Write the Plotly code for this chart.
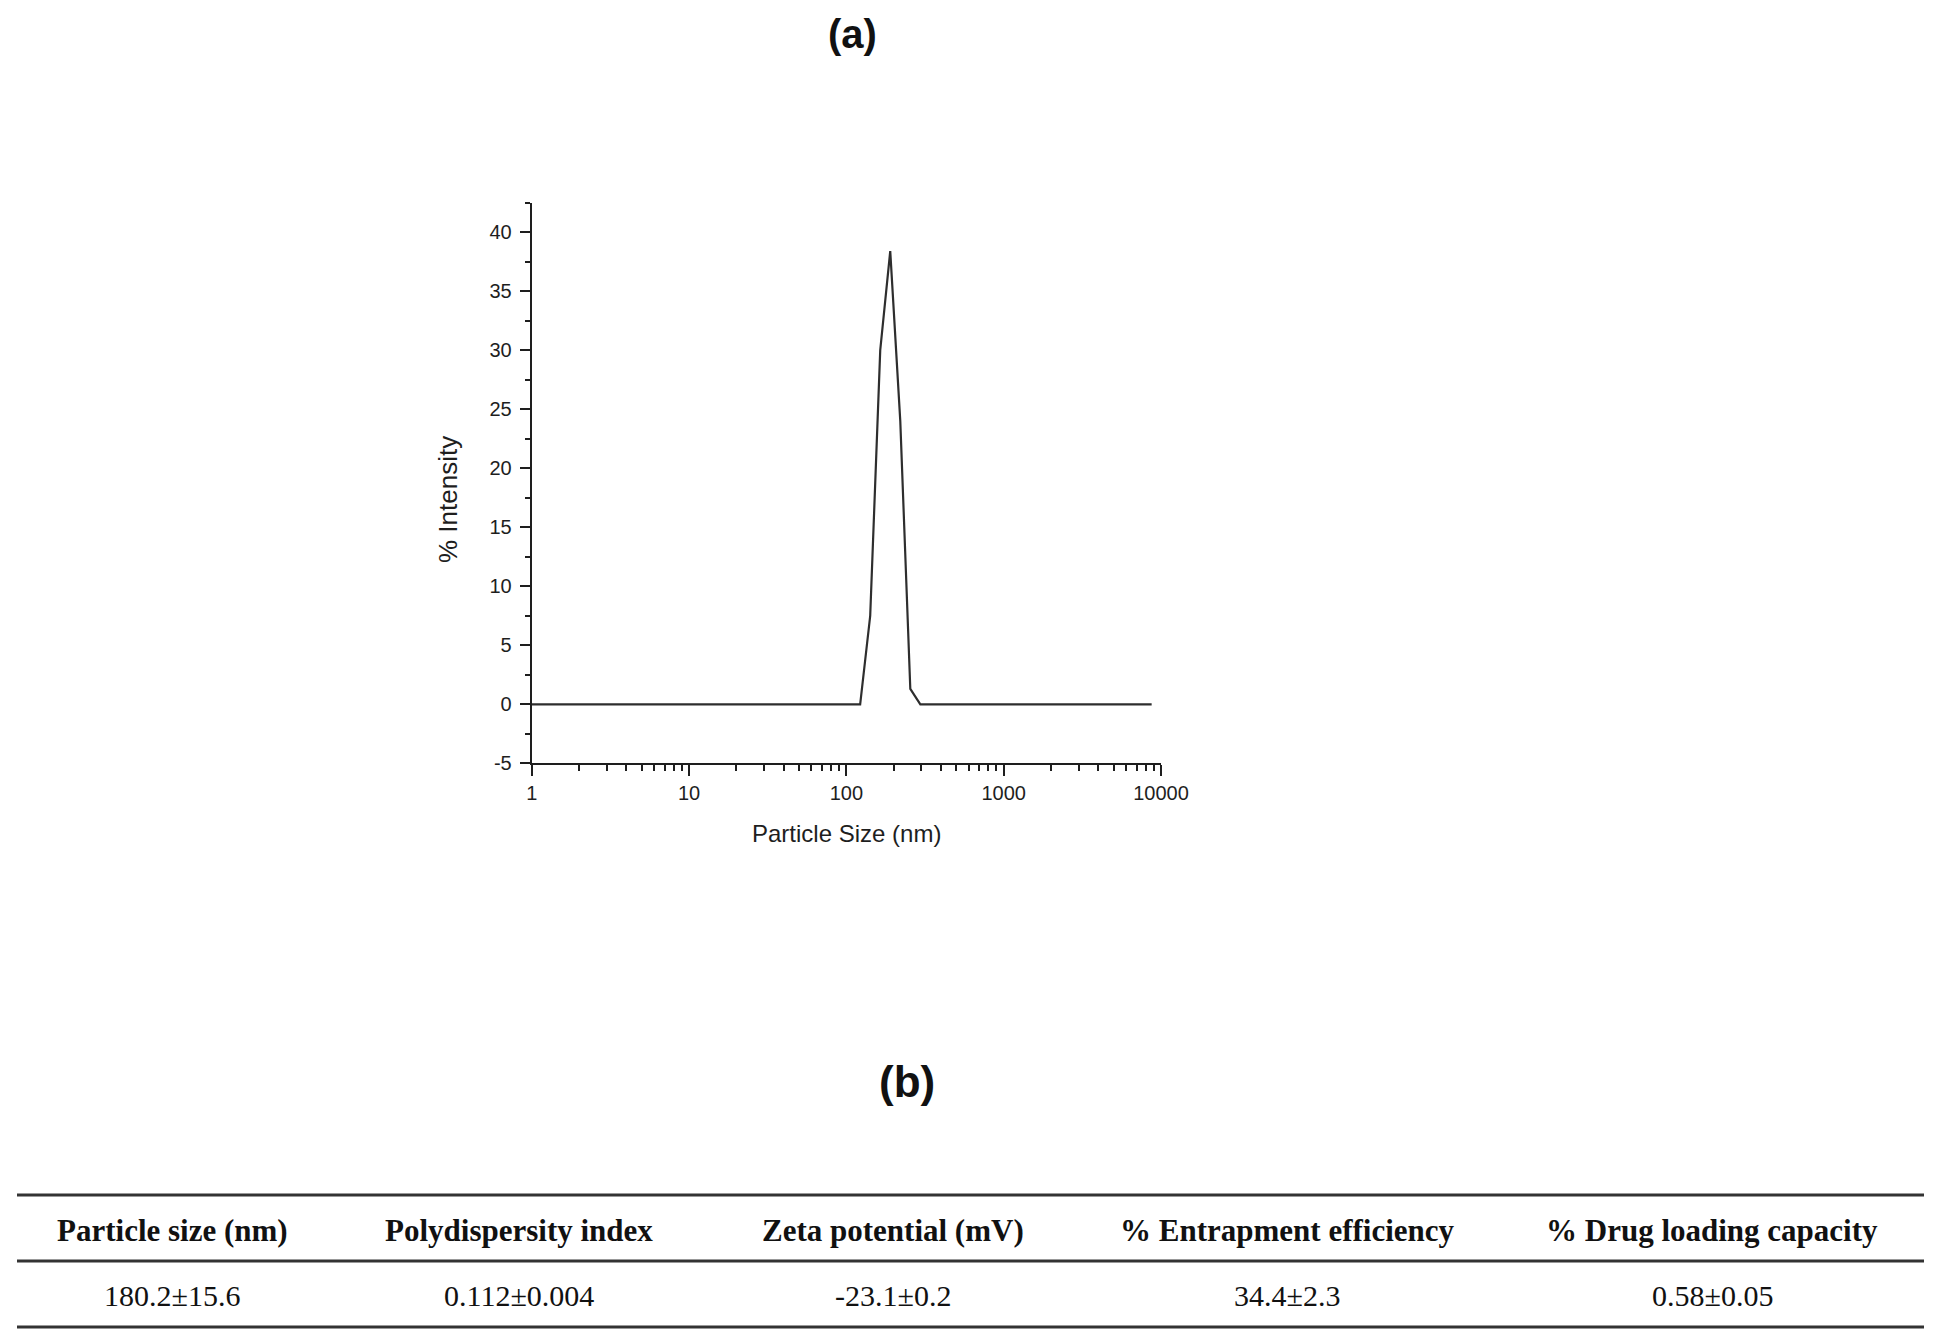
import plotly.graph_objects as go

# ---------------- data ----------------
particle_size_nm = [1, 122.4, 141.8, 164.2, 190.1, 220.2, 255.0, 295.3, 8721]
intensity_pct = [0, 0, 7.5, 30.0, 38.4, 24.0, 1.3, 0, 0]

x_tick_vals = [1, 10, 100, 1000, 10000]
x_tick_text = ["1", "10", "100", "1000", "10000"]
y_tick_vals = [-5, 0, 5, 10, 15, 20, 25, 30, 35, 40]
y_tick_text = ["-5", "0", "5", "10", "15", "20", "25", "30", "35", "40"]

table_headers = ["Particle size (nm)", "Polydispersity index", "Zeta potential (mV)",
                 "% Entrapment efficiency", "% Drug loading capacity"]
table_values = ["180.2±15.6", "0.112±0.004", "-23.1±0.2", "34.4±2.3", "0.58±0.05"]

panel_a_label = "(a)"
panel_b_label = "(b)"
x_title = "Particle Size (nm)"
y_title = "% Intensity"

# ---------------- layout helpers ----------------
W, H = 1942, 1343


def px(x):
    return x / W


def py(y):
    return 1 - y / H


AX = "#1e1e1e"
SANS = "Liberation Sans, Arial, sans-serif"
SERIF = "Liberation Serif, Times New Roman, serif"

fig = go.Figure()
fig.add_trace(go.Scatter(x=particle_size_nm, y=intensity_pct, mode="lines",
                         line=dict(color="#2e2e2e", width=2.2), hoverinfo="skip"))

minor_x = [d * m for d in [1, 10, 100, 1000] for m in range(2, 10)]

fig.update_layout(
    template="none",
    width=W, height=H, autosize=False,
    margin=dict(l=0, r=0, t=0, b=0, pad=0, autoexpand=False),
    plot_bgcolor="white", paper_bgcolor="white",
    showlegend=False,
    xaxis=dict(
        domain=[px(531.7), px(1161)], type="log", range=[0, 4],
        automargin=False,
        showline=True, linecolor=AX, linewidth=2, mirror=False,
        ticks="outside", ticklen=11, tickwidth=2, tickcolor=AX,
        tickmode="array", tickvals=x_tick_vals, ticktext=x_tick_text,
        tickfont=dict(family=SANS, size=20, color=AX),
        showgrid=False, zeroline=False,
        minor=dict(ticks="outside", ticklen=6, tickwidth=1.5, tickcolor=AX,
                   tickmode="array", tickvals=minor_x, showgrid=False),
    ),
    yaxis=dict(
        domain=[py(763.3), py(202.7)], range=[-5, 42.5],
        automargin=False,
        showline=True, linecolor=AX, linewidth=2, mirror=False,
        ticks="outside", ticklen=10, tickwidth=2, tickcolor=AX,
        tickmode="array", tickvals=y_tick_vals, ticktext=y_tick_text,
        tickfont=dict(family=SANS, size=20, color=AX),
        ticklabelstandoff=4,
        showgrid=False, zeroline=False,
        minor=dict(ticks="outside", ticklen=5, tickwidth=1.5, tickcolor=AX,
                   dtick=2.5, tick0=-5, showgrid=False),
    ),
)

annotations = [
    dict(text=f"<b>{panel_a_label}</b>", x=px(852.7), y=py(34), xref="paper", yref="paper",
         showarrow=False, xanchor="center", yanchor="middle",
         font=dict(family=SANS, size=40, color="#111111")),
    dict(text=f"<b>{panel_b_label}</b>", x=px(907), y=py(1081), xref="paper", yref="paper",
         showarrow=False, xanchor="center", yanchor="middle",
         font=dict(family=SANS, size=44, color="#111111")),
    dict(text=x_title, x=px(846.4), y=py(833.5), xref="paper", yref="paper",
         showarrow=False, xanchor="center", yanchor="middle",
         font=dict(family=SANS, size=24, color=AX)),
    dict(text=y_title, x=px(448), y=py(500), xref="paper", yref="paper",
         showarrow=False, xanchor="center", yanchor="middle", textangle=-90,
         font=dict(family=SANS, size=26, color=AX)),
]

col_centers = [172, 519, 893, 1287, 1712]
for cx, head, val in zip(col_centers, table_headers, table_values):
    annotations.append(dict(text=f"<b>{head}</b>", x=px(cx), y=py(1230), xref="paper", yref="paper",
                            showarrow=False, xanchor="center", yanchor="middle",
                            font=dict(family=SERIF, size=31, color="#111111")))
    annotations.append(dict(text=val, x=px(cx), y=py(1295), xref="paper", yref="paper",
                            showarrow=False, xanchor="center", yanchor="middle",
                            font=dict(family=SERIF, size=30, color="#111111")))
fig.update_layout(annotations=annotations)

shapes = []
for ly in [1195, 1261, 1327]:
    shapes.append(dict(type="line", xref="paper", yref="paper",
                       x0=px(17), x1=px(1924), y0=py(ly), y1=py(ly),
                       line=dict(color="#333333", width=3)))
fig.update_layout(shapes=shapes)

fig.write_html(
    "out.html",
    config={"displayModeBar": False},
    post_script="document.body.style.margin='0';document.body.style.overflow='hidden';",
)
